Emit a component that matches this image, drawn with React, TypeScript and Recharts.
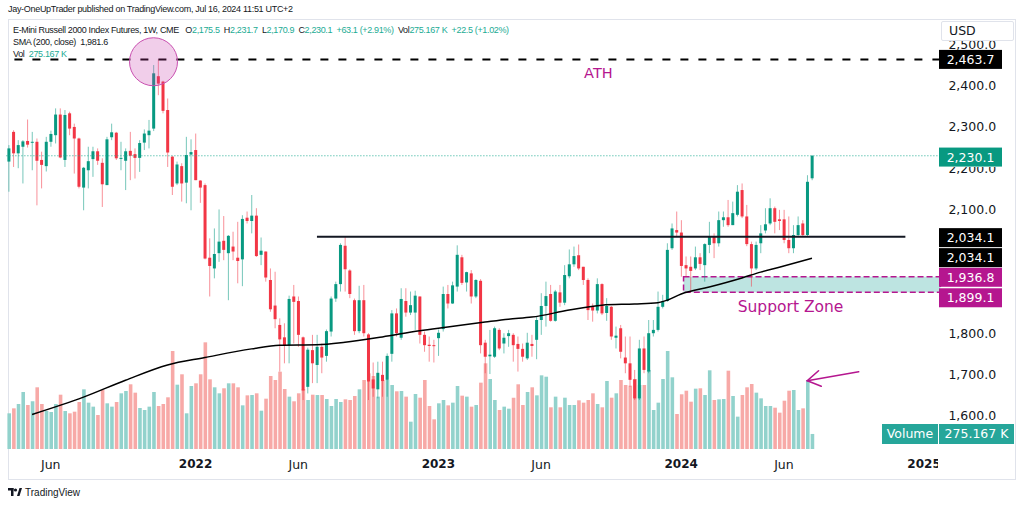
import React from 'react';
import {
  ComposedChart, Bar, Line, XAxis, YAxis, ReferenceLine, ReferenceArea, ReferenceDot, Cell,
} from 'recharts';

// ---- Weekly OHLC, E-Mini Russell 2000 futures ----
const opens = [
  2216, 2288, 2236, 2252, 2266, 2262, 2264, 2220, 2205, 2264, 2280, 2330, 2220, 2333, 2300, 2272, 2153, 2195, 2222, 2241,
  2213, 2159, 2275, 2286, 2223, 2218, 2242, 2234, 2225, 2262, 2280, 2296, 2423, 2410, 2341, 2228, 2163, 2205, 2165, 2233,
  2244, 2170, 2159, 1983, 1957, 1994, 2024, 1994, 2010, 1983, 1979, 2080, 2072, 2085, 1990, 1998, 1929, 1867, 1820, 1790,
  1771, 1889, 1878, 1790, 1670, 1759, 1723, 1767, 1745, 1804, 1884, 1919, 2012, 1952, 1880, 1805, 1880, 1797, 1688, 1664,
  1699, 1687, 1750, 1848, 1789, 1878, 1850, 1850, 1889, 1796, 1772, 1771, 1788, 1810, 1895, 1872, 1913, 1984, 1923, 1945,
  1889, 1927, 1777, 1744, 1743, 1808, 1775, 1793, 1796, 1774, 1762, 1739, 1774, 1784, 1832, 1866, 1895, 1830, 1899, 1874,
  1938, 1967, 1989, 1961, 1929, 1864, 1855, 1919, 1849, 1864, 1789, 1812, 1741, 1727, 1688, 1642, 1763, 1707, 1800, 1808,
  1864, 1878, 2006, 2050, 2044, 1965, 1961, 1957, 1984, 1965, 2014, 2034, 2018, 2074, 2081, 2062, 2087, 2147, 2083, 2016,
  1957, 2018, 2049, 2066, 2103, 2076, 2076, 2026, 2006, 2038, 2066, 2038, 2175.5,
];
const highs = [
  2256, 2292, 2268, 2268, 2318, 2288, 2272, 2240, 2276, 2291, 2345, 2345, 2341, 2337, 2308, 2274, 2203, 2252, 2252, 2248,
  2224, 2276, 2308, 2288, 2264, 2248, 2288, 2248, 2268, 2294, 2317, 2450, 2463.7, 2412, 2369, 2230, 2216, 2212, 2276, 2270,
  2284, 2171, 2163, 2030, 2054, 2100, 2084, 2038, 2046, 2070, 2086, 2095, 2135, 2103, 2032, 1998, 1957, 1949, 1836, 1824,
  1891, 1917, 1889, 1792, 1765, 1796, 1796, 1775, 1809, 1889, 1925, 2018, 2034.1, 1955, 1884, 1915, 1917, 1800, 1729, 1731,
  1731, 1751, 1856, 1860, 1909, 1909, 1901, 1903, 1889, 1804, 1792, 1784, 1809, 1913, 1917, 1925, 2013, 1990, 1949, 1953,
  1931, 1931, 1784, 1808, 1816, 1812, 1800, 1808, 1800, 1792, 1775, 1801, 1796, 1840, 1897, 1925, 1917, 1905, 1917, 1965,
  2003, 2010, 2015, 1961, 1933, 1872, 1933, 1921, 1885, 1866, 1816, 1820, 1792, 1792, 1711, 1784, 1792, 1832, 1832, 1901,
  1893, 2018, 2066, 2095, 2074, 1986, 1986, 2010, 1994, 2018, 2070, 2042, 2095, 2095, 2123, 2119, 2159, 2163, 2111, 2022,
  2022, 2062, 2103, 2127, 2107, 2099, 2099, 2083, 2062, 2083, 2074, 2183, 2231.7,
];
const lows = [
  2143, 2203, 2200, 2163, 2250, 2195, 2110, 2151, 2192, 2252, 2260, 2224, 2203, 2280, 2187, 2151, 2098, 2151, 2179, 2208,
  2106, 2159, 2268, 2220, 2195, 2147, 2171, 2175, 2191, 2244, 2248, 2290, 2377, 2333, 2203, 2135, 2159, 2119, 2115, 2098,
  2171, 2116, 1979, 1889, 1933, 1973, 1977, 1880, 1977, 1921, 1914, 2066, 2042, 1985, 1965, 1925, 1852, 1812, 1707, 1727,
  1727, 1775, 1767, 1638, 1654, 1679, 1679, 1703, 1731, 1792, 1876, 1901, 1901, 1885, 1796, 1800, 1792, 1638, 1646, 1642,
  1646, 1646, 1731, 1792, 1784, 1840, 1844, 1808, 1775, 1755, 1731, 1729, 1745, 1804, 1860, 1871, 1901, 1917, 1901, 1872,
  1885, 1751, 1703, 1701, 1740, 1759, 1751, 1767, 1731, 1707, 1731, 1735, 1743, 1737, 1796, 1816, 1828, 1828, 1864, 1868,
  1933, 1961, 1953, 1917, 1832, 1828, 1848, 1844, 1830, 1784, 1763, 1739, 1703, 1670, 1638, 1638, 1703, 1703, 1792, 1804,
  1860, 1876, 2002, 2034, 1937, 1937, 1899.1, 1953, 1953, 1925, 1994, 1982, 2010, 2058, 2058, 2062, 2083, 2079, 2011, 1913,
  1953, 1994, 2042, 2062, 2042, 2050, 2018, 1994, 1994, 2034, 2034, 2034, 2170.9,
];
const closes = [
  2248, 2236, 2256, 2265, 2257, 2264, 2218, 2208, 2264, 2283, 2330, 2226, 2329, 2296, 2272, 2155, 2201, 2217, 2241, 2218,
  2161, 2270, 2287, 2224, 2225, 2241, 2230, 2225, 2261, 2284, 2291, 2430, 2405, 2339, 2238, 2155, 2209, 2163, 2232, 2239,
  2171, 2153, 1981, 1963, 1992, 2022, 2002, 2036, 1998, 1975, 2077, 2072, 2085, 1987, 2000, 1935, 1858, 1834, 1785, 1769,
  1883, 1876, 1796, 1661, 1760, 1727, 1767, 1741, 1805, 1884, 1919, 2014, 1955, 1895, 1805, 1880, 1800, 1683, 1666, 1704,
  1684, 1745, 1848, 1800, 1883, 1850, 1868, 1891, 1796, 1771, 1769, 1769, 1801, 1895, 1872, 1916, 1990, 1922, 1948, 1889,
  1929, 1771, 1743, 1748, 1812, 1763, 1789, 1800, 1771, 1762, 1743, 1777, 1769, 1832, 1866, 1890, 1830, 1901, 1874, 1941,
  1967, 1987, 1957, 1929, 1856, 1855, 1919, 1848, 1866, 1792, 1794, 1755, 1727, 1687, 1642, 1763, 1711, 1800, 1808, 1864,
  1878, 2002, 2054, 2044, 1963, 1957, 1951, 1984, 1968, 2016, 2034, 2018, 2074, 2081, 2062, 2091, 2143, 2083, 2016, 1957,
  2014, 2042, 2064, 2103, 2070, 2072, 2026, 2006, 2038, 2062, 2038, 2167, 2230.1,
];
// weekly volume, thousands of contracts
const volumes = [
  653, 744, 824, 1043, 805, 873, 1129, 824, 695, 677, 824, 994, 695, 653, 683, 860, 1092, 848, 775, 622,
  1080, 836, 775, 860, 1019, 1061, 1184, 1031, 750, 714, 775, 1043, 787, 824, 946, 1793, 1177, 1367, 653, 1153,
  1202, 1367, 1952, 1275, 1129, 1019, 1111, 1202, 1202, 1129, 799, 982, 988, 1019, 701, 921, 1336, 1263, 1415, 1098,
  958, 873, 1019, 1098, 897, 994, 988, 988, 915, 787, 915, 860, 909, 897, 970, 1092, 1263, 1385, 1336, 958,
  1263, 1263, 1171, 1056, 1061, 958, 500, 1007, 939, 1263, 787, 543, 836, 897, 799, 848, 1153, 976, 958, 775,
  805, 1214, 1568, 1281, 897, 714, 775, 738, 939, 1184, 805, 1043, 1129, 982, 1348, 1323, 763, 958, 763, 939,
  805, 805, 891, 848, 897, 1019, 824, 763, 1244, 939, 1019, 1263, 1171, 1159, 1281, 1171, 1171, 1446, 714, 848,
  1281, 1793, 1312, 641, 1001, 1067, 866, 1104, 1111, 988, 1440, 897, 909, 915, 1433, 970, 592, 988, 1129, 1190,
  1031, 927, 787, 787, 756, 665, 884, 1067, 1080, 714, 744, 1263, 275.167,
];
// SMA(200, close) read at selected weeks
const smaWeeks = [5, 16, 25, 34, 42, 52, 58, 66, 72, 80, 88, 94, 102, 107, 112, 120, 127, 134, 139, 141, 144, 150, 157, 161, 165, 172];
const smaValues = [1603, 1645, 1686, 1723, 1741, 1762, 1771, 1772, 1778, 1791, 1806, 1815, 1827, 1834, 1839, 1856, 1868, 1871, 1874, 1880, 1895, 1912, 1934, 1948, 1960, 1981.6];

const xTickWeeks = [9, 40, 62, 92, 114, 144, 166, 196];
const xTickLabels = ['Jun', '2022', 'Jun', '2023', 'Jun', '2024', 'Jun', '2025'];
// 1,900.0 and 2,000.0 are covered by price tags in the reference
const priceTicks = [1600, 1700, 1800, 2100, 2200, 2300, 2400, 2500];

const ATH = 2463.7;
const LAST = 2230.1;
const RESIST = 2034.1;
const ZONE_TOP = 1936.8;
const ZONE_BOTTOM = 1899.1;

const SLOTS = 200;
const UP = '#089981';
const DOWN = '#f23645';
const UP_VOL = '#92d2cc';
const DOWN_VOL = '#f7a9a7';
const MAGENTA = '#b5168f';
const FONT = '"DejaVu Sans", sans-serif';
const SMALL_FONT = '"Liberation Sans", Arial, sans-serif';

const data = Array.from({ length: SLOTS }, (_, i) => {
  if (i < opens.length) {
    const k = smaWeeks.indexOf(i);
    return {
      i,
      open: opens[i], high: highs[i], low: lows[i], close: closes[i],
      range: [lows[i], highs[i]],
      vol: volumes[i],
      sma: k >= 0 ? smaValues[k] : null,
    };
  }
  return { i, sma: null };
});

const Candle = (props: any) => {
  const { x, y, width, height, payload } = props;
  if (!payload || payload.open == null) return null;
  const { open, close, high, low } = payload;
  const top = Math.min(y, y + height);
  const h = Math.abs(height);
  const px = (v: number) => (high === low ? top : top + ((high - v) / (high - low)) * h);
  const up = close >= open;
  const color = up ? UP : DOWN;
  const cx = x + width / 2;
  const bTop = px(Math.max(open, close));
  const bBot = px(Math.min(open, close));
  return (
    <g>
      <rect x={cx - 0.5} y={top} width={1} height={Math.max(h, 1)} fill={color} opacity={0.55} />
      <rect x={x} y={bTop} width={width} height={Math.max(bBot - bTop, 1)} fill={color} />
    </g>
  );
};

const XTick = (p: any) => {
  const k = xTickWeeks.indexOf(p.payload.value);
  if (k < 0) return null;
  const label = xTickLabels[k];
  const bold = /^\d{4}$/.test(label);
  return (
    <g>
      <defs>
        <clipPath id={`xclip${k}`}>
          <rect x={0} y={0} width={938} height={506} />
        </clipPath>
      </defs>
      <text
        x={p.x}
        y={p.y + 15}
        textAnchor="middle"
        dominantBaseline="central"
        fontSize={bold ? 12 : 12.5}
        fontWeight={bold ? 700 : 400}
        fill="#131722"
        fontFamily={FONT}
        clipPath={`url(#xclip${k})`}
      >
        {label}
      </text>
    </g>
  );
};

const fmt = (v: number) =>
  v.toLocaleString('en-US', { minimumFractionDigits: 1, maximumFractionDigits: 1 });

const YTick = (p: any) => {
  const v = p.payload.value;
  // the 2,200.0 label sits partly under the last-price tag
  const clipped = v === 2200;
  return (
    <g>
      {clipped && (
        <defs>
          <clipPath id="yclip2200">
            <rect x={p.x - 5} y={p.y - 1.2} width={90} height={20} />
          </clipPath>
        </defs>
      )}
      <text x={p.x} y={p.y} dominantBaseline="central" fontSize={12.5} fill="#131722" fontFamily={FONT}
        clipPath={clipped ? 'url(#yclip2200)' : undefined}>
        {fmt(v)}
      </text>
    </g>
  );
};

const Tag = ({ x, y, bg, text }: { x: number; y: number; bg: string; text: string }) => (
  <g>
    <rect x={x} y={y - 9.5} width={63} height={19} fill={bg} />
    <text x={x + 31.5} y={y} textAnchor="middle" dominantBaseline="central" fill="#fff" fontSize={12.5} fontFamily={FONT}>
      {text}
    </text>
  </g>
);

const Arrow = (p: any) => {
  const { x1, y1, x2, y2 } = p;
  const ang = Math.atan2(y2 - y1, x2 - x1);
  const len = 15;
  const a1 = ang + Math.PI - 0.55;
  const a2 = ang + Math.PI + 0.55;
  return (
    <g stroke={MAGENTA} strokeWidth={1.6} fill="none" strokeLinecap="round">
      <line x1={x1} y1={y1} x2={x2} y2={y2} />
      <polyline
        points={`${x2 + len * Math.cos(a1)},${y2 + len * Math.sin(a1)} ${x2},${y2} ${x2 + len * Math.cos(a2)},${y2 + len * Math.sin(a2)}`}
      />
    </g>
  );
};

const teal = { color: '#22ab94' };

export default function App() {
  return (
    <div style={{ position: 'absolute', left: 0, top: 0, width: 1024, height: 506, background: '#fff', overflow: 'hidden' }}>
      <div style={{ position: 'absolute', left: 8, top: 4, fontSize: 9, letterSpacing: -0.3, fontFamily: SMALL_FONT, color: '#131722', whiteSpace: 'nowrap' }}>
        Jay-OneUpTrader published on TradingView.com, Jul 16, 2024 11:51 UTC+2
      </div>
      <div style={{ position: 'absolute', left: 8, top: 19, width: 1008, height: 461, border: '1px solid #e0e3eb', boxSizing: 'border-box' }} />
      <ComposedChart
        width={1024}
        height={506}
        data={data}
        margin={{ top: 21, right: 7.6, bottom: 27, left: 6.4 }}
        style={{ position: 'absolute', left: 0, top: 0 }}
      >
        <XAxis
          xAxisId="main"
          dataKey="i"
          type="category"
          ticks={xTickWeeks}
          interval={0}
          height={30}
          axisLine={false}
          tickLine={false}
          tickSize={0}
          tickMargin={0}
          tick={<XTick />}
        />
        <XAxis xAxisId="v" dataKey="i" type="category" hide />
        <YAxis
          yAxisId="price"
          orientation="right"
          type="number"
          domain={[1519.3, 2556.8]}
          ticks={priceTicks}
          interval={0}
          width={76}
          axisLine={false}
          tickLine={false}
          tickSize={0}
          tickMargin={8}
          tick={<YTick />}
          allowDataOverflow
        />
        <YAxis yAxisId="vol" type="number" domain={[0, 7832]} hide allowDataOverflow />

        <Bar xAxisId="v" yAxisId="vol" dataKey="vol" barSize={3.6} isAnimationActive={false}>
          {data.map((d: any) => (
            <Cell key={d.i} fill={d.close != null && d.close >= d.open ? UP_VOL : DOWN_VOL} />
          ))}
        </Bar>

        <ReferenceLine xAxisId="main" yAxisId="price" y={LAST} stroke="#22ab94" strokeDasharray="1 2" strokeWidth={1}
          label={(p: any) => <Tag x={p.viewBox.x + p.viewBox.width - 1.4} y={p.viewBox.y + 1.3} bg="#089981" text={fmt(LAST)} />}
        />

        <Bar xAxisId="main" yAxisId="price" dataKey="range" barSize={3} shape={<Candle />} isAnimationActive={false} />

        <Line
          xAxisId="main"
          yAxisId="price"
          dataKey="sma"
          type="monotone"
          stroke="#000"
          strokeWidth={1.5}
          dot={false}
          activeDot={false}
          connectNulls
          isAnimationActive={false}
        />

        <ReferenceArea
          xAxisId="main"
          yAxisId="price"
          x1={145}
          x2={199}
          y1={ZONE_BOTTOM}
          y2={ZONE_TOP}
          fill="rgba(38,166,154,0.3)"
          fillOpacity={1}
          stroke={MAGENTA}
          strokeWidth={1.5}
          strokeDasharray="6 3"
          ifOverflow="visible"
          label={(p: any) => {
            const vb = p.viewBox;
            return (
              <g>
                <text x={vb.x + 107} y={vb.y + vb.height + 15} textAnchor="middle" dominantBaseline="central"
                  fill={MAGENTA} fontSize={15.5} fontFamily={FONT}>Support Zone</text>
                <Tag x={vb.x + vb.width - 1.4} y={vb.y + 0.5} bg={MAGENTA} text={fmt(ZONE_TOP)} />
                <Tag x={vb.x + vb.width - 1.4} y={vb.y + 21} bg={MAGENTA} text={fmt(ZONE_BOTTOM)} />
              </g>
            );
          }}
        />

        <ReferenceLine xAxisId="main" yAxisId="price" y={ATH} stroke="#000" strokeWidth={2} strokeDasharray="8 10"
          label={(p: any) => (
            <g>
              <text x={p.viewBox.x + 592} y={p.viewBox.y + 14} textAnchor="middle" dominantBaseline="central"
                fill={MAGENTA} fontSize={14.5} fontFamily={FONT}>ATH</text>
              <Tag x={p.viewBox.x + p.viewBox.width - 1.4} y={p.viewBox.y} bg="#000" text={fmt(ATH)} />
            </g>
          )}
        />

        <ReferenceLine xAxisId="main" yAxisId="price" y={RESIST} stroke="none"
          label={(p: any) => (
            <g>
              <Tag x={p.viewBox.x + p.viewBox.width - 1.4} y={p.viewBox.y + 1} bg="#000" text={fmt(RESIST)} />
              <Tag x={p.viewBox.x + p.viewBox.width - 1.4} y={p.viewBox.y + 21} bg="#000" text={fmt(RESIST)} />
            </g>
          )}
        />
        <ReferenceLine
          xAxisId="main"
          yAxisId="price"
          segment={[{ x: 66, y: RESIST }, { x: 192, y: RESIST }]}
          stroke="#131722"
          strokeWidth={2}
          ifOverflow="visible"
        />

        <ReferenceDot xAxisId="main" yAxisId="price" x={31} y={2458} r={24}
          fill="rgba(200,60,170,0.25)" stroke="#c94fb0" strokeWidth={1} ifOverflow="visible" />

        <ReferenceLine
          xAxisId="main"
          yAxisId="price"
          segment={[{ x: 182, y: 1706.7 }, { x: 171, y: 1684.9 }]}
          ifOverflow="visible"
          shape={<Arrow />}
        />
      </ComposedChart>

      <div style={{ position: 'absolute', left: 13, top: 24, fontSize: 9, letterSpacing: -0.35, lineHeight: '12px', fontFamily: SMALL_FONT, color: '#131722', whiteSpace: 'nowrap' }}>
        <div>
          E-Mini Russell 2000 Index Futures, 1W, CME&nbsp;&nbsp;
          O<span style={teal}>2,175.5</span>&nbsp;&nbsp;H<span style={teal}>2,231.7</span>&nbsp;&nbsp;L<span style={teal}>2,170.9</span>&nbsp;&nbsp;C<span style={teal}>2,230.1</span>&nbsp;&nbsp;<span style={teal}>+63.1 (+2.91%)</span>&nbsp;&nbsp;Vol<span style={teal}>275.167 K</span>&nbsp;&nbsp;<span style={teal}>+22.5 (+1.02%)</span>
        </div>
        <div>SMA (200, close)&nbsp;&nbsp;1,981.6</div>
        <div>Vol&nbsp;&nbsp;<span style={teal}>275.167 K</span></div>
      </div>

      <div style={{ position: 'absolute', left: 941, top: 21, width: 73, height: 20, background: '#fff', border: '1px solid #e0e3eb', borderRadius: 2, boxSizing: 'border-box', fontSize: 12.5, fontFamily: FONT, color: '#131722', paddingLeft: 7, lineHeight: '17px' }}>
        USD
      </div>

      <div style={{ position: 'absolute', left: 882, top: 424, height: 20, display: 'flex', fontSize: 12.5, fontFamily: FONT, color: '#fff', lineHeight: '20px' }}>
        <div style={{ width: 56, background: '#26a69a', textAlign: 'center', marginRight: 1 }}>Volume</div>
        <div style={{ width: 75, background: '#26a69a', textAlign: 'center' }}>275.167 K</div>
      </div>

      <div style={{ position: 'absolute', left: 8, top: 487, display: 'flex', alignItems: 'center', fontFamily: SMALL_FONT, fontSize: 10, color: '#131722' }}>
        <svg width={14} height={9} style={{ marginRight: 3 }}>
          <rect x={0} y={0} width={5.5} height={2.5} fill="#131722" />
          <rect x={3} y={0} width={2.5} height={8} fill="#131722" />
          <circle cx={7.5} cy={2} r={1.6} fill="#131722" />
          <polygon points="9,8 11.5,0 14,0 11.5,8" fill="#131722" />
        </svg>
        TradingView
      </div>
    </div>
  );
}
